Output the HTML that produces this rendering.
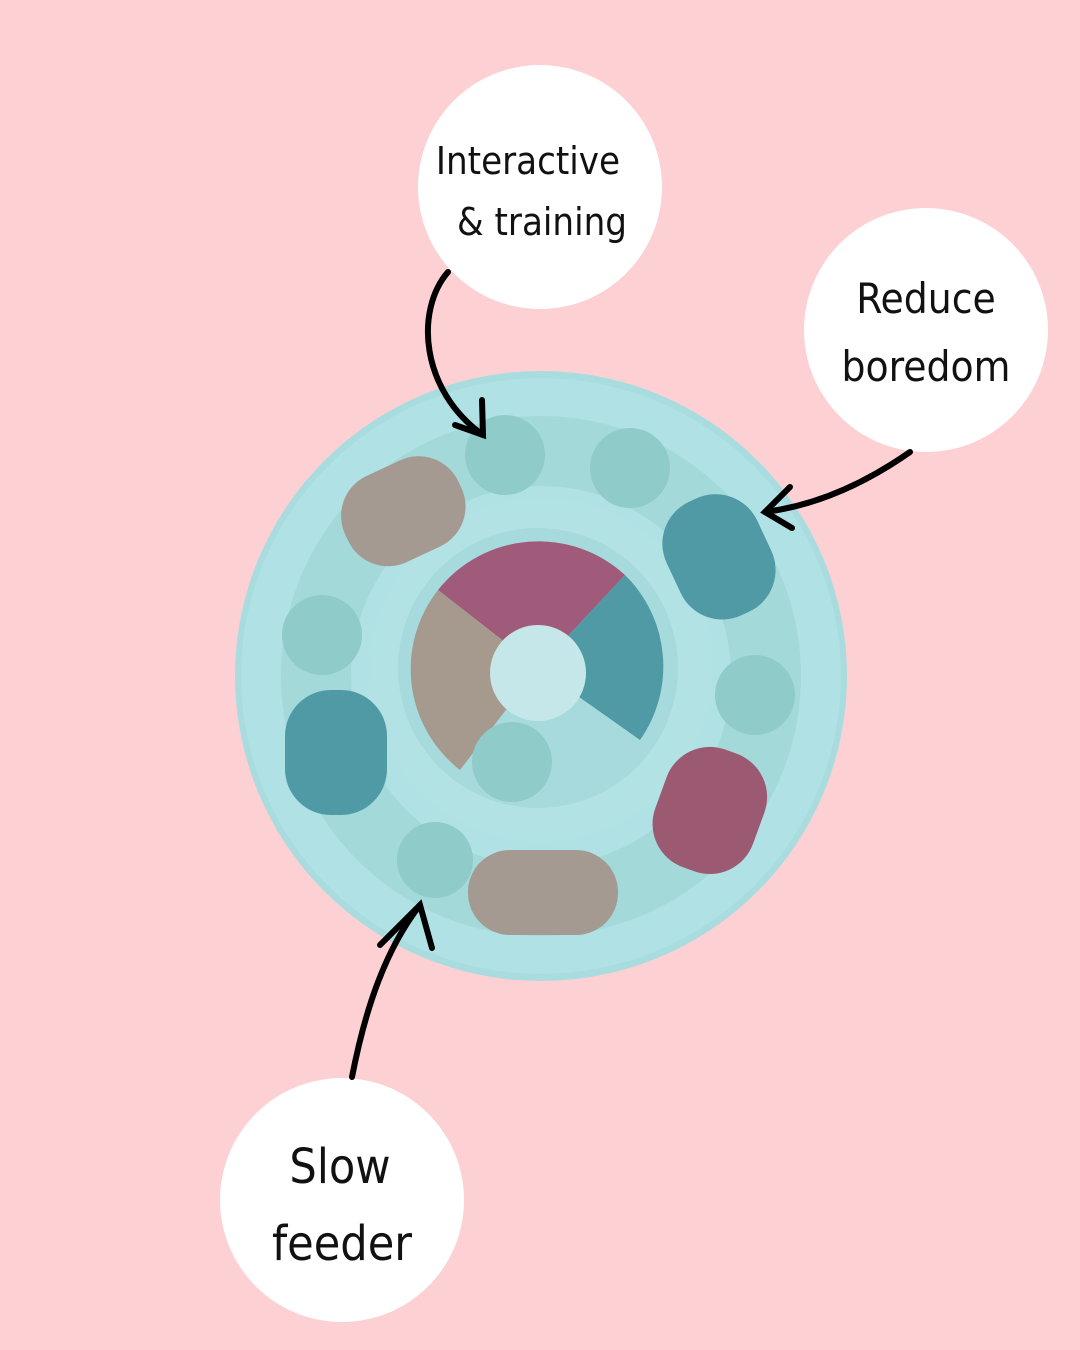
<!DOCTYPE html>
<html><head><meta charset="utf-8"><style>
html,body{margin:0;padding:0;background:#fdd0d4;}
svg{display:block}
text{font-family:"DejaVu Sans Condensed","Liberation Sans Narrow","Liberation Sans",sans-serif;fill:#111}
</style></head><body>
<svg width="1080" height="1350" viewBox="0 0 1080 1350" xmlns="http://www.w3.org/2000/svg">
<rect width="1080" height="1350" fill="#fdd0d4"/>
<ellipse cx="541" cy="676" rx="306" ry="305" fill="#a9dcdf"/>
<ellipse cx="541" cy="676" rx="300" ry="298" fill="#b0e1e4"/>
<circle cx="541" cy="676" r="225" fill="none" stroke="#9cd3d3" stroke-width="70" opacity="0.6"/>
<circle cx="541" cy="670" r="172" fill="#b2e2e4"/>
<g fill="#8fcbc8">
<circle cx="505" cy="455" r="40"/><circle cx="630" cy="468" r="40"/>
<circle cx="322" cy="635" r="40"/><circle cx="755" cy="695" r="40"/>
<circle cx="435" cy="860" r="38"/>
</g>
<rect x="340" y="465" width="125" height="95" rx="44" fill="#a59a92" transform="rotate(-25 400 510)"/>
<rect x="668" y="495" width="100" height="125" rx="46" fill="#4f9aa5" transform="rotate(-25 717 555)"/>
<rect x="285" y="690" width="102" height="125" rx="46" fill="#4f9aa5"/>
<rect x="658" y="748" width="104" height="125" rx="46" fill="#9c5a72" transform="rotate(20 710 810)"/>
<rect x="468" y="850" width="150" height="85" rx="42" fill="#a59a92"/>
<circle cx="538" cy="668" r="140" fill="#a7dadd"/>
<path d="M538 668 L438 590 A128 128 0 0 1 625 575 Z" fill="#a05b7a"/>
<path d="M538 668 L625 575 A128 128 0 0 1 640 740 Z" fill="#4f9aa5"/>
<path d="M538 668 L438 590 A128 128 0 0 0 460 770 Z" fill="#a69a8e"/>
<circle cx="512" cy="762" r="40" fill="#8fcbc8"/>
<circle cx="538" cy="673" r="48" fill="#c6e7ea"/>
<g fill="#fff">
<circle cx="540" cy="187" r="122"/>
<circle cx="926" cy="330" r="122"/>
<circle cx="342" cy="1200" r="122"/>
</g>
<text x="528" y="174" font-size="38" text-anchor="middle">Interactive</text>
<text x="542" y="235" font-size="38" text-anchor="middle">&amp; training</text>
<text x="926" y="313" font-size="42" text-anchor="middle">Reduce</text>
<text x="926" y="381" font-size="42" text-anchor="middle">boredom</text>
<text x="340" y="1183" font-size="48" text-anchor="middle">Slow</text>
<text x="342" y="1260" font-size="48" text-anchor="middle">feeder</text>
<g fill="none" stroke="#000" stroke-width="6" stroke-linecap="round">
<path d="M448 272 C415 310 420 390 483 435"/>
<path d="M455 425 L483 435 L482 400"/>
<path d="M910 452 C870 480 820 505 765 512"/>
<path d="M790 487 L765 512 L792 528"/>
<path d="M352 1077 C365 1010 385 950 420 905"/>
<path d="M380 945 L420 905 L432 948"/>
</g>
</svg>
</body></html>
